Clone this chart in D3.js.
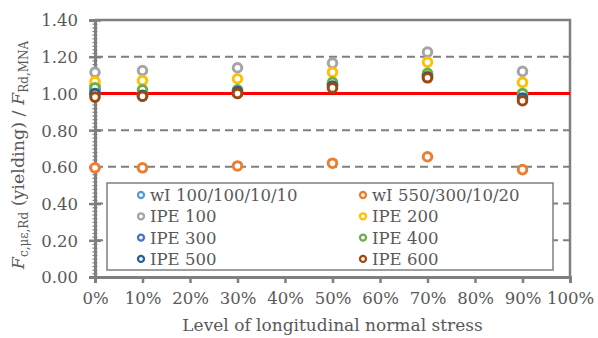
<!DOCTYPE html>
<html>
<head>
<meta charset="utf-8">
<script src="https://cdn.jsdelivr.net/npm/d3@7"></script>
<style>
  body { margin: 0; background: #fff; }
  text { font-family: "DejaVu Serif", serif; fill: #595959; }
</style>
</head>
<body>
<script>
// Data
var levels = [0, 10, 30, 50, 70, 90];
var seriesNames = [
  "wI 100/100/10/10", "wI 550/300/10/20",
  "IPE 100", "IPE 200",
  "IPE 300", "IPE 400",
  "IPE 500", "IPE 600"
];
var seriesColors = ["#5B9BD5", "#ED7D31", "#A5A5A5", "#FFC000", "#4472C4", "#70AD47", "#255E91", "#9E480E"];
var wI100 = [1.04, 1.00, 1.00, 1.05, 1.10, 0.99];
var wI550 = [0.595, 0.595, 0.605, 0.62, 0.655, 0.585];
var ipe100 = [1.115, 1.125, 1.14, 1.165, 1.225, 1.12];
var ipe200 = [1.065, 1.07, 1.08, 1.115, 1.17, 1.06];
var ipe300 = [1.02, 0.985, 1.01, 1.05, 1.10, 0.99];
var ipe400 = [1.03, 1.02, 1.02, 1.06, 1.11, 1.00];
var ipe500 = [1.00, 0.99, 1.01, 1.04, 1.09, 0.975];
var ipe600 = [0.98, 0.985, 1.00, 1.03, 1.085, 0.96];
var seriesValues = [wI100, wI550, ipe100, ipe200, ipe300, ipe400, ipe500, ipe600];
var yTicks = [0, 0.2, 0.4, 0.6, 0.8, 1.0, 1.2, 1.4];
var xTicks = [0, 10, 20, 30, 40, 50, 60, 70, 80, 90, 100];
var gridValues = [0.2, 0.4, 0.6, 0.8, 1.2];
var refValue = 1.0;

var W = 598, H = 338;
var svg = d3.select("body").append("svg").attr("width", W).attr("height", H);

var x = d3.scaleLinear().domain([0, 100]).range([95, 570]);
var y = d3.scaleLinear().domain([0, 1.4]).range([277, 20]);

// dashed gridlines
svg.selectAll(".grid").data(gridValues).enter().append("line")
  .attr("class", "grid")
  .attr("x1", x(0)).attr("x2", x(100))
  .attr("y1", function(d) { return y(d); })
  .attr("y2", function(d) { return y(d); })
  .attr("stroke", "#7f7f7f").attr("stroke-width", 2)
  .attr("stroke-dasharray", "8,5");

// plot border (top/right)
svg.append("path")
  .attr("d", "M" + x(0) + "," + y(1.4) + "H" + x(100) + "V" + y(0))
  .attr("fill", "none").attr("stroke", "#7f7f7f").attr("stroke-width", 2.5);

// red reference line
svg.append("line")
  .attr("x1", x(0)).attr("x2", x(100))
  .attr("y1", y(refValue)).attr("y2", y(refValue))
  .attr("stroke", "#FF0000").attr("stroke-width", 3);

// y axis with minor ticks
var yMinor = d3.range(0, 1.401, 0.02);
svg.append("g")
  .attr("transform", "translate(" + (x(0) + 2.5) + ",0)")
  .call(d3.axisLeft(y).tickValues(yMinor).tickSize(5).tickFormat(""))
  .call(function(g) { g.select(".domain").remove(); })
  .selectAll("line").attr("stroke", "#7f7f7f").attr("stroke-width", 1.2);

var yAxis = svg.append("g")
  .attr("transform", "translate(" + x(0) + ",0)")
  .call(d3.axisLeft(y).tickValues(yTicks).tickSize(6).tickPadding(12)
    .tickFormat(d3.format(".2f")));
yAxis.select(".domain").attr("stroke", "#7f7f7f").attr("stroke-width", 3);
yAxis.selectAll(".tick line").attr("stroke", "#7f7f7f").attr("stroke-width", 2.5)
  .attr("x2", 6).attr("x1", -6);
yAxis.selectAll(".tick text").style("font-size", "16.5px").attr("fill", "#595959")
  .attr("x", -17).attr("dy", "0.36em");

// x axis
var xAxis = svg.append("g")
  .attr("transform", "translate(0," + y(0) + ")")
  .call(d3.axisBottom(x).tickValues(xTicks).tickSize(6).tickPadding(9)
    .tickFormat(function(d) { return d + "%"; }));
xAxis.select(".domain").attr("stroke", "#7f7f7f").attr("stroke-width", 3);
xAxis.selectAll(".tick line").attr("stroke", "#7f7f7f").attr("stroke-width", 2.5);
xAxis.selectAll(".tick text").style("font-size", "16.5px").attr("fill", "#595959");

// legend box
var lg = svg.append("g");
lg.append("rect")
  .attr("x", 107).attr("y", 183).attr("width", 446).attr("height", 87)
  .attr("fill", "#fff").attr("stroke", "#7f7f7f").attr("stroke-width", 1.5);

// data markers
seriesValues.forEach(function(vals, si) {
  svg.append("g").selectAll("circle").data(vals).enter().append("circle")
    .attr("cx", function(d, i) { return x(levels[i]); })
    .attr("cy", function(d) { return y(d); })
    .attr("r", 4.3)
    .attr("fill", "#fff")
    .attr("stroke", seriesColors[si])
    .attr("stroke-width", 3);
});

// legend entries
seriesNames.forEach(function(name, i) {
  var col = i % 2, row = Math.floor(i / 2);
  var lx = col === 0 ? 141 : 363;
  var ly = 195 + row * 21.3;
  lg.append("circle").attr("cx", lx).attr("cy", ly).attr("r", 3)
    .attr("fill", "#fff").attr("stroke", seriesColors[i]).attr("stroke-width", 2.3);
  lg.append("text").attr("x", lx + 9).attr("y", ly).attr("dy", "0.36em")
    .style("font-size", "16.5px").text(name);
});

// axis titles
svg.append("text")
  .attr("x", x(50)).attr("y", 331)
  .attr("text-anchor", "middle").style("font-size", "17px")
  .text("Level of longitudinal normal stress");

var yt = svg.append("text")
  .attr("transform", "translate(24,155) rotate(-90)")
  .attr("text-anchor", "middle").style("font-size", "17.5px");
yt.append("tspan").style("font-style", "italic").text("F");
yt.append("tspan").attr("dy", 4).style("font-size", "12px").text("c,\u03bc\u03b5,Rd");
yt.append("tspan").attr("dy", -4).text(" (yielding) / ");
yt.append("tspan").style("font-style", "italic").text("F");
yt.append("tspan").attr("dy", 4).style("font-size", "12px").text("Rd,MNA");
</script>
</body>
</html>
